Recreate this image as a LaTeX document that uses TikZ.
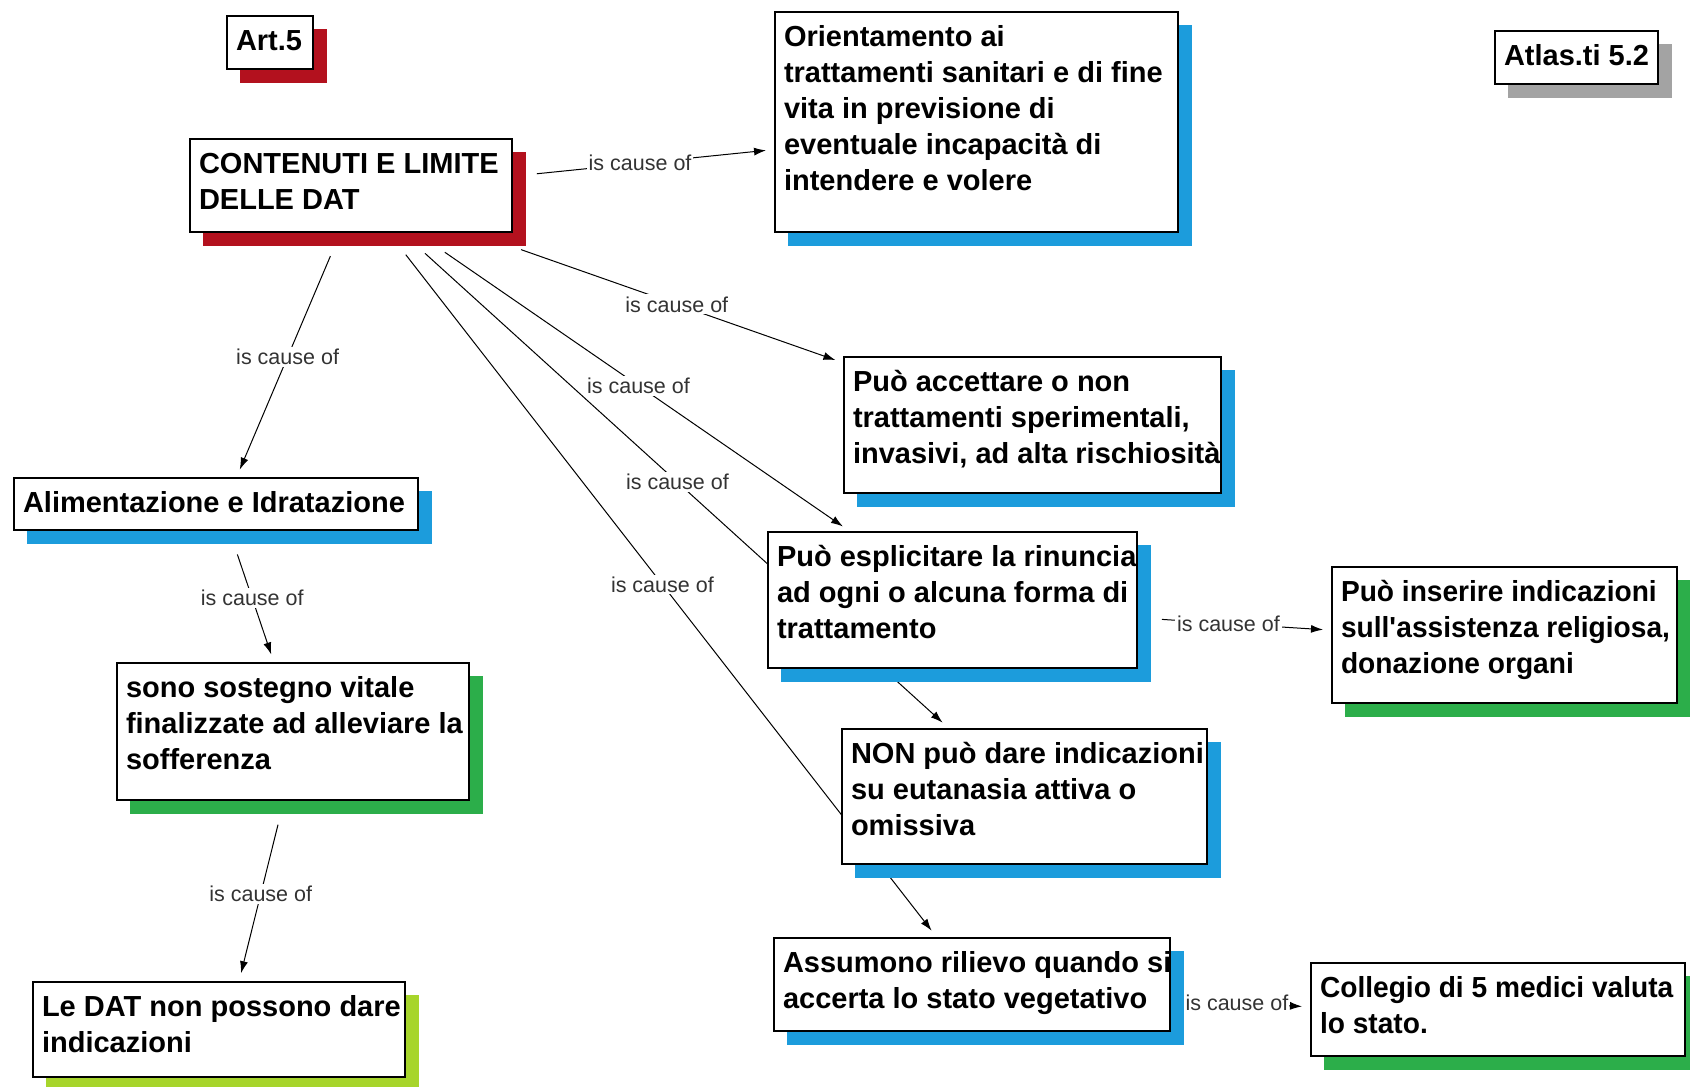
\documentclass[tikz,border=0pt]{standalone}
\usepackage{fontspec}
\setmainfont{Liberation Sans}
\newfontfamily\semicondfont{Liberation Sans Bold}[FakeStretch=0.97]
\usepackage{tikz}
\usetikzlibrary{arrows.meta}

\definecolor{cRed}{HTML}{B3111E}
\definecolor{cBlue}{HTML}{1C9CDC}
\definecolor{cGreen}{HTML}{2CAE4A}
\definecolor{cLime}{HTML}{A7D52B}
\definecolor{cGrey}{HTML}{A3A3A3}

\newcommand{\conceptfont}{\fontsize{29}{36}\selectfont\bfseries}
\newcommand{\causefont}{\fontsize{21.5}{25}\selectfont}
% hull width, hull height, lines
\newcommand{\ctext}[3]{\parbox[c][#2pt][t]{#1pt}{\rule{0pt}{35pt}\hspace*{10pt}\begin{tabular}[t]{@{}l@{}}#3\end{tabular}}}

\pgfdeclarelayer{paper}
\pgfdeclarelayer{links}
\pgfsetlayers{paper,links,main}

\begin{document}
\begin{tikzpicture}[x=1pt,y=-1pt,
	concept/.style={anchor=north west, inner sep=0pt, outer sep=0pt, draw, draw opacity=0, font=\conceptfont,
		path picture={
			\fill[#1] ([xshift=14pt,yshift=-14pt]path picture bounding box.north west) rectangle (path picture bounding box.south east);
			\draw[draw opacity=1, draw=black, line width=1.5pt, fill=white] ([xshift=.75pt,yshift=-.75pt]path picture bounding box.north west) rectangle ([xshift=-14pt,yshift=14pt]path picture bounding box.south east);}},
	cause/.style={line width=1pt, -{Latex[length=12pt,width=8pt]}, shorten <=11pt, shorten >=8pt},
	lbl/.style={font=\causefont, text=black!80, fill=white, inner sep=2pt, pos=.5}]
		\useasboundingbox (0,0) rectangle (1690,1087);
		\begin{pgfonlayer}{paper}
			\fill[white] (0,0) rectangle (1690,1087);
		\end{pgfonlayer}

		\node[concept=cRed] (art) at (226,15) {\ctext{101}{68}{Art.5}};
		\node[concept=cGrey] (atlas) at (1494,30) {\ctext{178}{68}{Atlas.ti 5.2}};
		\node[concept=cRed] (cont) at (189,138) {\ctext{337}{108}{CONTENUTI E LIMITE\\DELLE DAT}};
		\node[concept=cBlue] (orient) at (774,11) {\ctext{418}{235}{Orientamento ai\\trattamenti sanitari e di fine\\vita in previsione di\\eventuale incapacità di\\intendere e volere}};
		\node[concept=cBlue] (accett) at (843,356) {\ctext{392}{151}{Può accettare o non\\trattamenti sperimentali,\\invasivi, ad alta rischiosità}};
		\node[concept=cBlue] (alim) at (13,477) {\ctext{419}{67}{Alimentazione e Idratazione}};
		\node[concept=cBlue] (espl) at (767,531) {\ctext{384}{151}{Può esplicitare la rinuncia\\ad ogni o alcuna forma di\\trattamento}};
		\node[concept=cGreen, font={\fontsize{29}{36}\semicondfont}] (inser) at (1331,566) {\ctext{360}{151}{Può inserire indicazioni\\sull\textquotesingle assistenza religiosa,\\donazione organi}};
		\node[concept=cGreen] (sost) at (116,662) {\ctext{367}{152}{sono sostegno vitale\\finalizzate ad alleviare la\\sofferenza}};
		\node[concept=cBlue] (nonpuo) at (841,728) {\ctext{380}{150}{NON può dare indicazioni\\su eutanasia attiva o\\omissiva}};
		\node[concept=cBlue] (assum) at (773,937) {\ctext{411}{108}{Assumono rilievo quando si\\accerta lo stato vegetativo}};
		\node[concept=cGreen, font={\fontsize{29}{36}\semicondfont}] (coll) at (1310,962) {\ctext{389}{108}{Collegio di 5 medici valuta\\lo stato.}};
		\node[concept=cLime] (ledat) at (32,981) {\ctext{387}{110}{Le DAT non possono dare\\indicazioni}};

		% links go under the boxes
		\begin{pgfonlayer}{links}
			\draw[cause] (cont) -- node[lbl,pos=.46] {is cause of} (orient);
			\draw[cause] (cont) -- node[lbl] {is cause of} (accett);
			\draw[cause] (cont) -- node[lbl,pos=.48] {is cause of} (alim);
			\draw[cause] (cont) -- node[lbl,pos=.49] {is cause of} (espl);
			\draw[cause] (cont) -- node[lbl,pos=.49] {is cause of} (nonpuo);
			\draw[cause] (cont) -- node[lbl,pos=.49] {is cause of} (assum);
			\draw[cause] (alim) -- node[lbl,pos=.46] {is cause of} (sost);
			\draw[cause] (sost) -- node[lbl,pos=.48] {is cause of} (ledat);
			\draw[cause] (espl) -- node[lbl,pos=.43] {is cause of} (inser);
			\draw[cause] (assum) -- node[lbl,pos=.42,inner xsep=1pt] {is cause of} (coll);
		\end{pgfonlayer}
	\end{tikzpicture}
\end{document}
